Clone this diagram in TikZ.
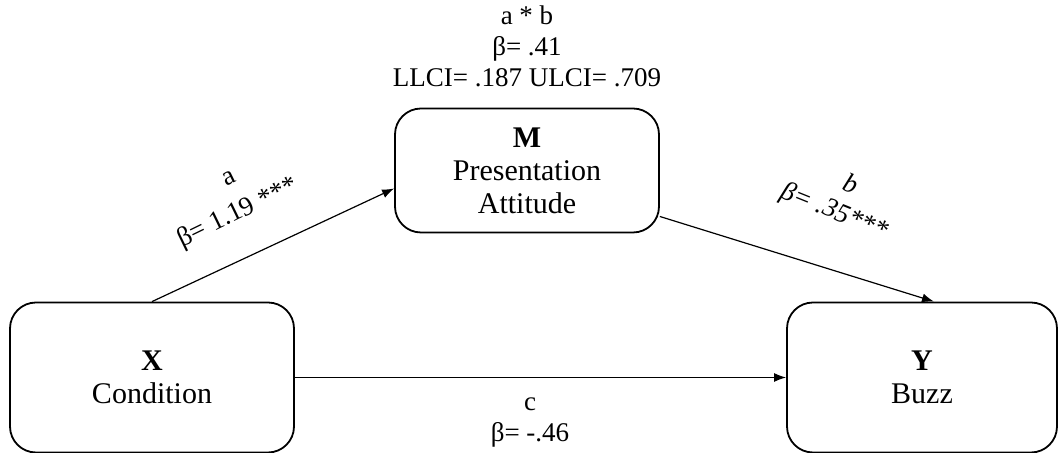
\documentclass[tikz,border=0pt]{standalone}
\usepackage{fontspec}
\setmainfont{Liberation Serif}
\usetikzlibrary{positioning, arrows.meta, calc}

\begin{document}
\begin{tikzpicture}[->,>={Latex[length=6pt,width=4.5pt]},x=0.5pt,y=-0.5pt,semithick,
    box/.style={draw,-,line width=0.9pt,rounded corners=13pt,minimum width=142pt,align=center,font=\fontsize{15}{16.5}\selectfont},
    lbl/.style={align=center,inner sep=1pt,font=\fontsize{13.5}{15.5}\selectfont}]
      \useasboundingbox (0,0) rectangle (1062,453);
      \node[box,minimum height=75pt] (X) at (152,377.5) {\textbf{X}\\Condition};
      \node[box,minimum height=62pt,minimum width=132pt] (M) at (527,170.5) {\textbf{M}\\Presentation\\Attitude};
      \node[box,minimum height=75pt,minimum width=135pt] (Y) at (922,377.5) {\textbf{Y}\\Buzz};
      \draw (X.north) -- ([yshift=-9pt]M.west);
      \draw ([yshift=-23pt]M.east) -- ([xshift=6pt]Y.north);
      \draw (X.east) -- (Y.west);
      \node[lbl] (ab) at (527,46) {a * b\\β= .41\\LLCI= .187 ULCI= .709};
      % path labels
      \node[lbl,rotate=26] (alab) at (229,178) {a};
      \node[lbl,rotate=26] (abeta) at (238,213) {β= 1.19 ***};
      \node[lbl,rotate=-22,font=\fontsize{13.5}{15.5}\selectfont\itshape] (blab) at (851,183) {b};
      \node[lbl,rotate=-22,font=\fontsize{13.5}{15.5}\selectfont\itshape] (bbeta) at (834,212) {β= .35***};
      \node[lbl] (clab) at (530,423) {c\\β= -.46};
\end{tikzpicture}
\end{document}
